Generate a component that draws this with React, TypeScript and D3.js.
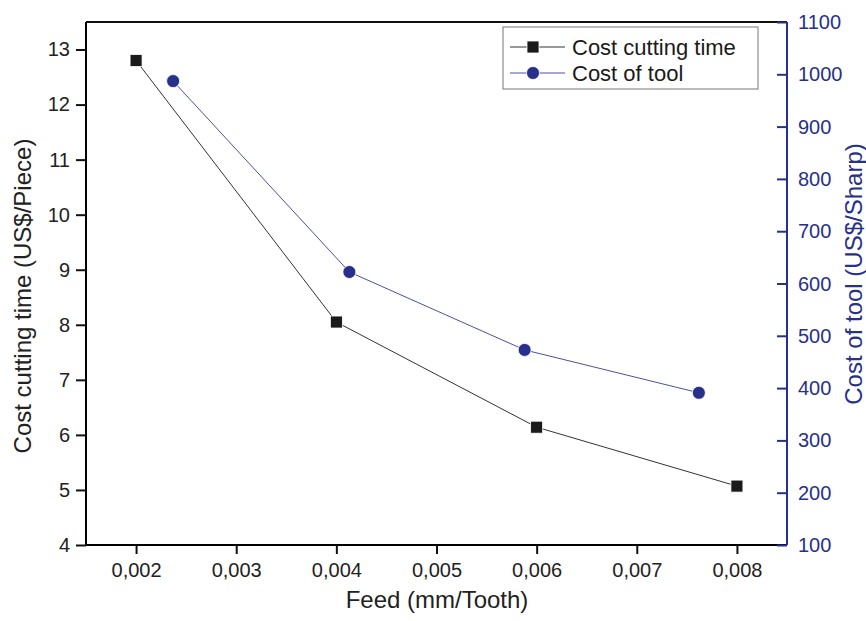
import React, { useRef, useEffect } from "react";
import * as d3 from "d3";

// Cost cutting time (US$/Piece) vs feed
const feedTime = [0.002, 0.004, 0.006, 0.008];
const costTime = [12.8, 8.05, 6.14, 5.07];

// Cost of tool (US$/Sharp) vs feed
const feedTool = [0.00237, 0.00413, 0.00588, 0.00762];
const costTool = [987, 622, 473, 391];

const xTicks = [0.002, 0.003, 0.004, 0.005, 0.006, 0.007, 0.008];
const leftTicks = [4, 5, 6, 7, 8, 9, 10, 11, 12, 13];
const rightTicks = [100, 200, 300, 400, 500, 600, 700, 800, 900, 1000, 1100];

const NAVY = "#27308a";
const FONT = "'Liberation Sans', Arial, sans-serif";

const App = () => {
  const svgRef = useRef<SVGSVGElement>(null);

  useEffect(() => {
    const width = 866;
    const height = 621;
    const margin = { top: 22, right: 79, bottom: 76, left: 86 };

    const svg = d3.select(svgRef.current);
    svg.selectAll("*").remove();

    const x = d3
      .scaleLinear()
      .domain([0.0015, 0.0085])
      .range([margin.left, width - margin.right]);
    const yL = d3
      .scaleLinear()
      .domain([4, 13.5])
      .range([height - margin.bottom, margin.top]);
    const yR = d3
      .scaleLinear()
      .domain([100, 1100])
      .range([height - margin.bottom, margin.top]);

    const fmt = (d: number) => d3.format(".3f")(d).replace(".", ",");

    // X AXIS (major + minor)
    const gx = svg
      .append("g")
      .attr("transform", `translate(0,${height - margin.bottom})`);
    gx.call(
      d3.axisBottom(x).tickValues(d3.range(0.0015, 0.00851, 0.0005)).tickSize(5).tickFormat(() => "")
    );
    gx.call(d3.axisBottom(x).tickValues(xTicks).tickSize(9).tickPadding(9).tickFormat((d) => fmt(+d)));
    gx.select(".domain").attr("stroke-width", 2).attr("d", `M${margin.left},0H${width - margin.right}`);
    gx.selectAll("line").attr("stroke-width", 2).attr("stroke", "#111");
    gx.selectAll("text").attr("font-size", 20).attr("font-family", FONT).attr("fill", "#222");

    // TOP FRAME
    svg
      .append("line")
      .attr("x1", margin.left)
      .attr("x2", width - margin.right)
      .attr("y1", margin.top)
      .attr("y2", margin.top)
      .attr("stroke", "#111")
      .attr("stroke-width", 2);

    // LEFT AXIS
    const gl = svg.append("g").attr("transform", `translate(${margin.left},0)`);
    gl.call(d3.axisLeft(yL).tickValues(d3.range(4.5, 13.5, 1)).tickSize(6).tickFormat(() => ""));
    gl.call(d3.axisLeft(yL).tickValues(leftTicks).tickSize(10).tickPadding(6));
    gl.select(".domain").attr("stroke-width", 2).attr("d", `M0,${height - margin.bottom}V${margin.top}`);
    gl.selectAll("line").attr("stroke-width", 2).attr("stroke", "#111");
    gl.selectAll("text").attr("font-size", 20).attr("font-family", FONT).attr("fill", "#222");

    // RIGHT AXIS (ticks point inward)
    const gr = svg.append("g").attr("transform", `translate(${width - margin.right},0)`);
    gr.call(d3.axisLeft(yR).tickValues(d3.range(150, 1100, 100)).tickSize(6).tickFormat(() => ""));
    gr.call(d3.axisLeft(yR).tickValues(rightTicks).tickSize(10).tickFormat(() => ""));
    gr.select(".domain").attr("stroke", NAVY).attr("stroke-width", 2).attr("d", `M0,${height - margin.bottom}V${margin.top}`);
    gr.selectAll("line").attr("stroke-width", 2).attr("stroke", NAVY);
    gr.selectAll(".rlab")
      .data(rightTicks)
      .join("text")
      .attr("x", 11)
      .attr("y", (d) => yR(d))
      .attr("dy", "0.35em")
      .attr("text-anchor", "start")
      .attr("font-size", 20)
      .attr("font-family", FONT)
      .attr("fill", NAVY)
      .text((d) => d);

    // LINES
    const timePts = feedTime.map((f, i) => [f, costTime[i]] as [number, number]);
    const toolPts = feedTool.map((f, i) => [f, costTool[i]] as [number, number]);

    svg
      .append("path")
      .datum(timePts)
      .attr("fill", "none")
      .attr("stroke", "#333")
      .attr("stroke-width", 1)
      .attr("d", d3.line<[number, number]>().x((d) => x(d[0])).y((d) => yL(d[1])));
    svg
      .append("path")
      .datum(toolPts)
      .attr("fill", "none")
      .attr("stroke", "#4c519e")
      .attr("stroke-width", 1)
      .attr("d", d3.line<[number, number]>().x((d) => x(d[0])).y((d) => yR(d[1])));

    // MARKERS
    svg
      .selectAll(".sq")
      .data(timePts)
      .join("rect")
      .attr("x", (d) => x(d[0]) - 6)
      .attr("y", (d) => yL(d[1]) - 6)
      .attr("width", 12)
      .attr("height", 12)
      .attr("fill", "#1a1a1a")
      .attr("stroke", "#fff")
      .attr("stroke-width", 0.8);
    svg
      .selectAll(".ci")
      .data(toolPts)
      .join("circle")
      .attr("cx", (d) => x(d[0]))
      .attr("cy", (d) => yR(d[1]))
      .attr("r", 6.5)
      .attr("fill", NAVY)
      .attr("stroke", "#fff")
      .attr("stroke-width", 0.8);

    // LEGEND
    const lg = svg.append("g");
    lg.append("rect")
      .attr("x", 503)
      .attr("y", 27)
      .attr("width", 255)
      .attr("height", 62)
      .attr("fill", "#fff")
      .attr("stroke", "#777")
      .attr("stroke-width", 1);
    const items = [
      { label: "Cost cutting time", color: "#333", y: 47, shape: "sq" },
      { label: "Cost of tool", color: "#4c519e", y: 73, shape: "ci" },
    ];
    items.forEach((it) => {
      lg.append("line")
        .attr("x1", 510)
        .attr("x2", 565)
        .attr("y1", it.y)
        .attr("y2", it.y)
        .attr("stroke", it.color)
        .attr("stroke-width", 1);
      if (it.shape === "sq") {
        lg.append("rect")
          .attr("x", 533 - 6)
          .attr("y", it.y - 6)
          .attr("width", 12)
          .attr("height", 12)
          .attr("fill", "#1a1a1a")
          .attr("stroke", "#fff")
          .attr("stroke-width", 0.8);
      } else {
        lg.append("circle")
          .attr("cx", 533)
          .attr("cy", it.y)
          .attr("r", 6.5)
          .attr("fill", NAVY)
          .attr("stroke", "#fff")
          .attr("stroke-width", 0.8);
      }
      lg.append("text")
        .attr("x", 572)
        .attr("y", it.y)
        .attr("dy", "0.36em")
        .attr("font-size", 22)
        .attr("font-family", FONT)
        .attr("fill", "#1a1a1a")
        .text(it.label);
    });

    // AXIS TITLES
    svg
      .append("text")
      .attr("x", 437)
      .attr("y", 608)
      .attr("text-anchor", "middle")
      .attr("font-size", 24)
      .attr("font-family", FONT)
      .attr("fill", "#222")
      .text("Feed (mm/Tooth)");
    svg
      .append("text")
      .attr("transform", `translate(31,296) rotate(-90)`)
      .attr("text-anchor", "middle")
      .attr("font-size", 24)
      .attr("font-family", FONT)
      .attr("fill", "#222")
      .text("Cost cutting time (US$/Piece)");
    svg
      .append("text")
      .attr("transform", `translate(862,274) rotate(-90)`)
      .attr("text-anchor", "middle")
      .attr("font-size", 24)
      .attr("font-family", FONT)
      .attr("fill", NAVY)
      .text("Cost of tool (US$/Sharp)");
  }, []);

  return (
    <svg
      ref={svgRef}
      width={866}
      height={621}
      style={{ position: "absolute", left: 0, top: 0, background: "#fff" }}
    />
  );
};

export default App;
